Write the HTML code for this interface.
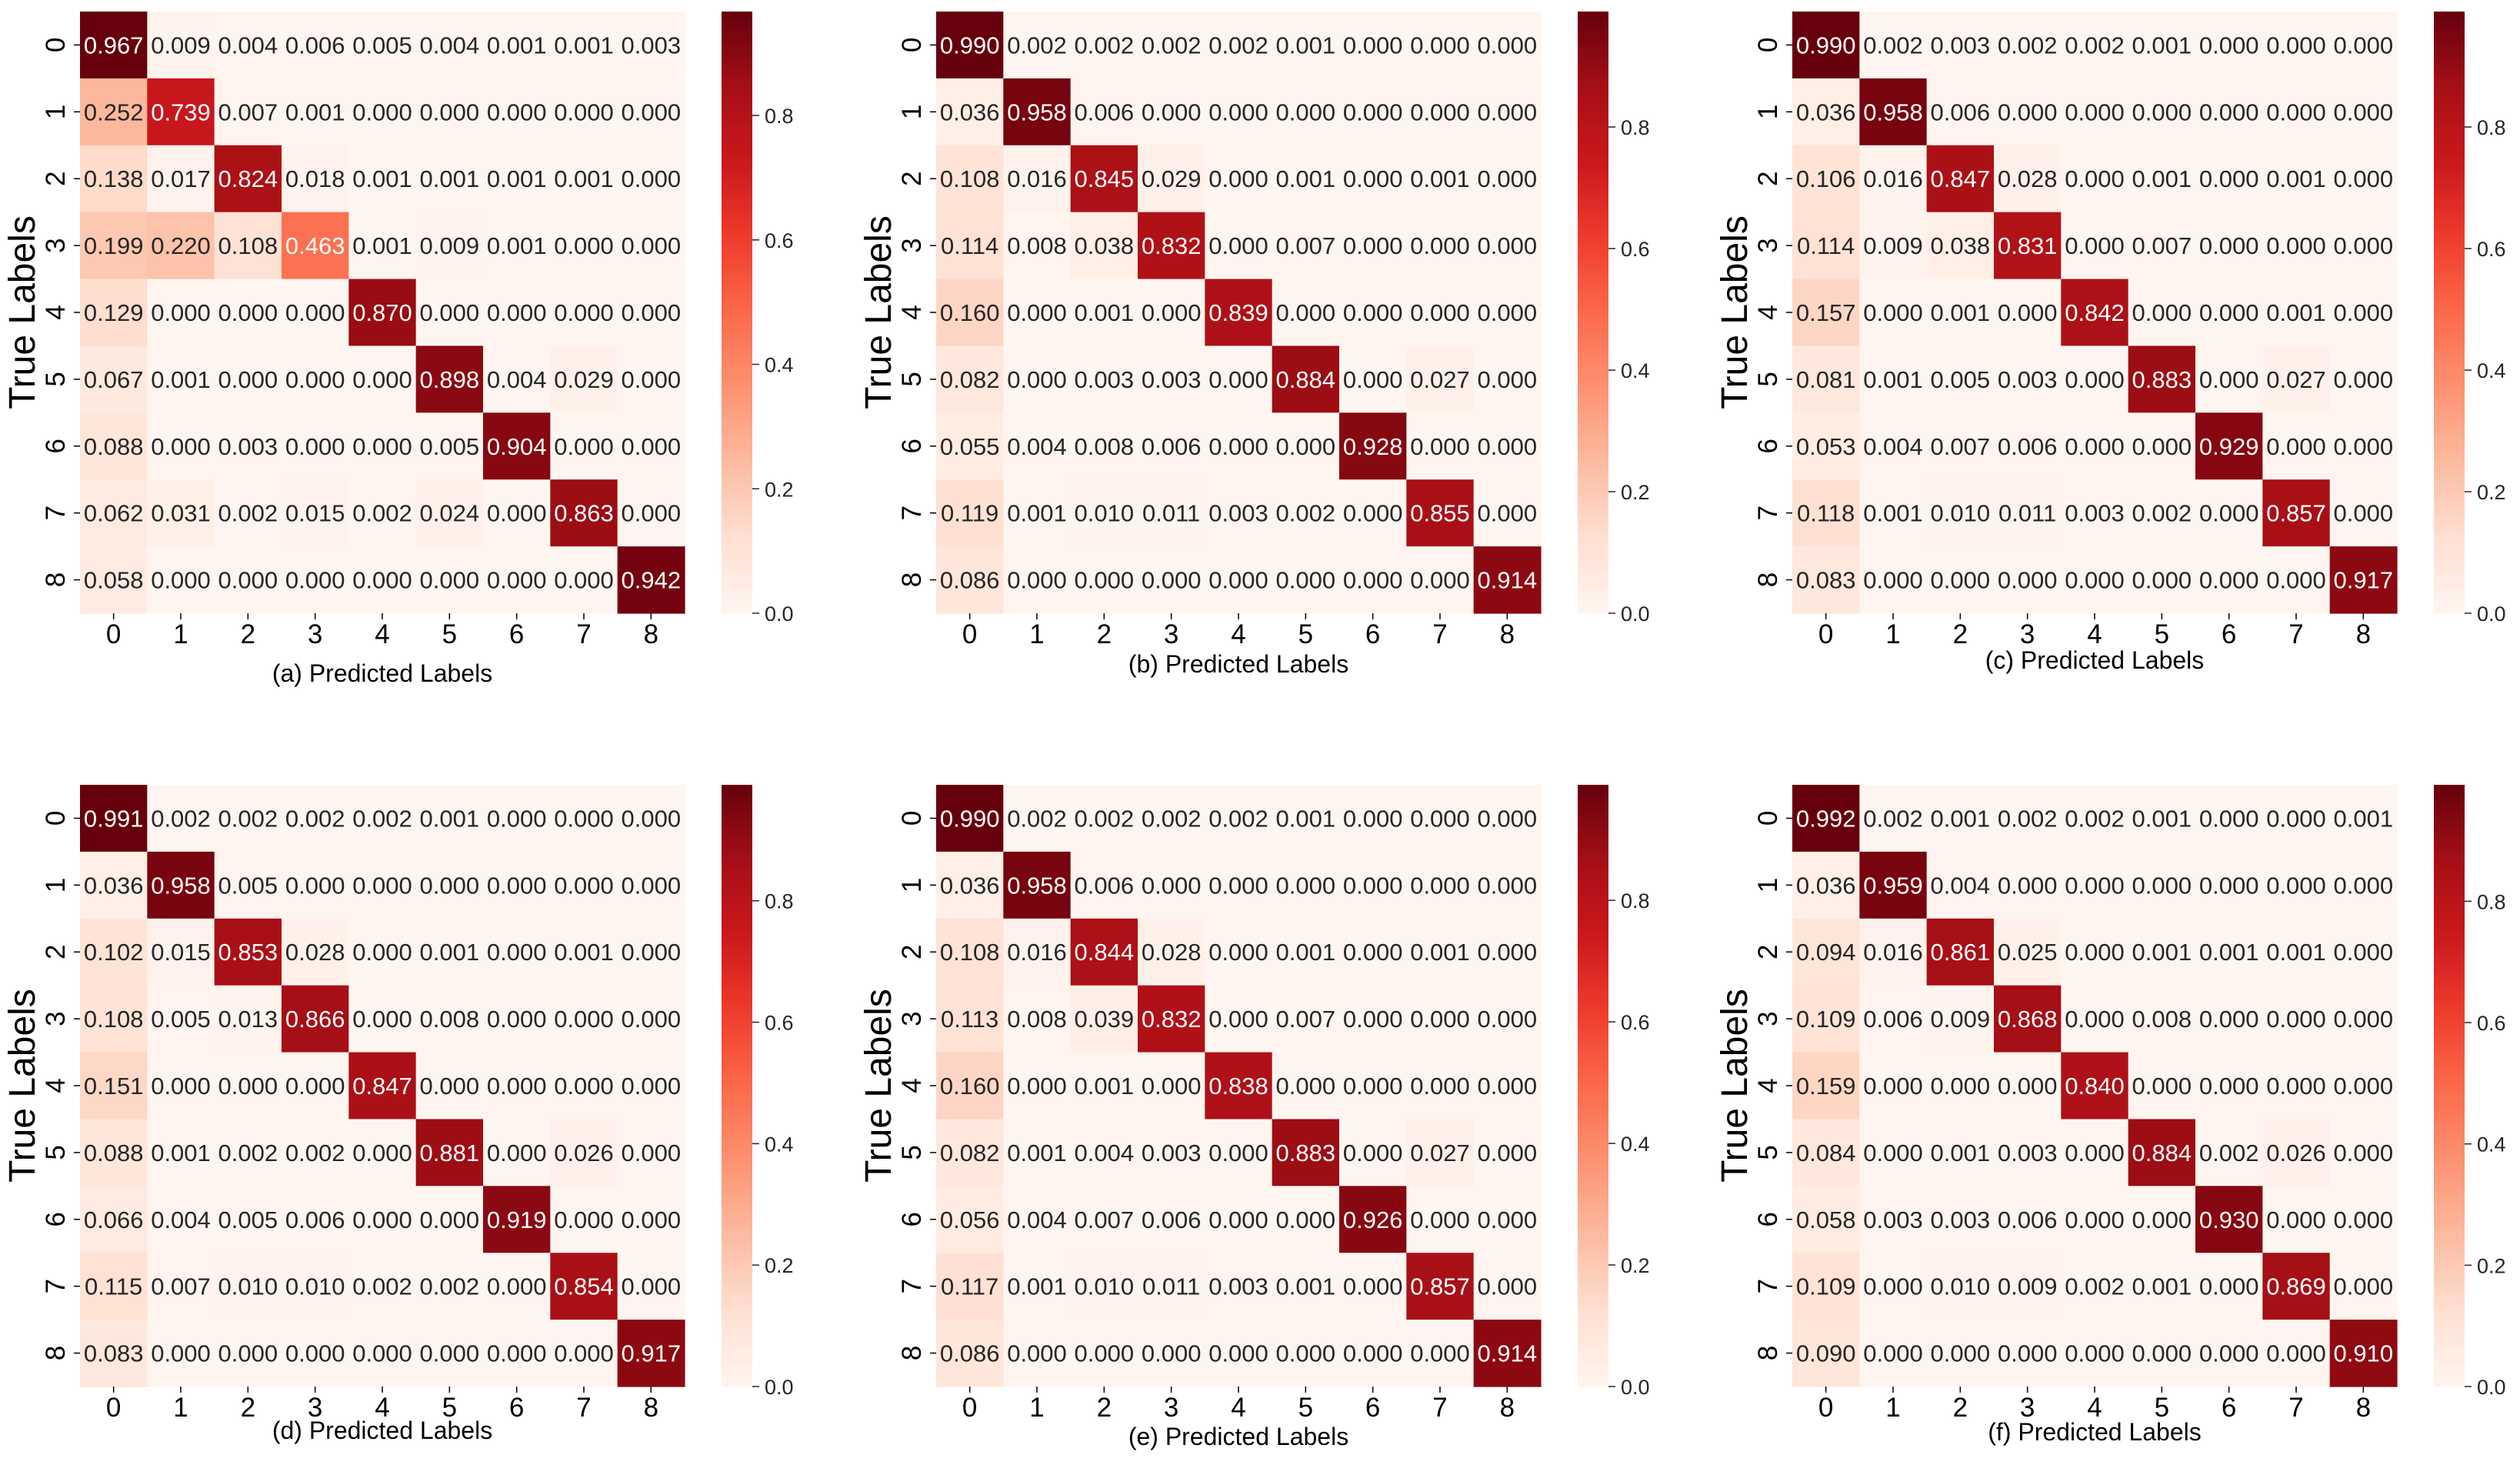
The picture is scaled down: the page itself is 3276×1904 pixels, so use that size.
<!DOCTYPE html>
<html><head><meta charset="utf-8">
<style>
html,body{margin:0;padding:0;background:#fff;}
svg{display:block;font-family:"Liberation Sans",Arial,sans-serif;}
</style></head>
<body>
<svg id="chart" width="3276" height="1904" viewBox="0 0 3276 1904" xmlns="http://www.w3.org/2000/svg"></svg>
<script>
const classLabels = ["0","1","2","3","4","5","6","7","8"];
const colorbarTicks = [0.0, 0.2, 0.4, 0.6, 0.8];
const panelTitles = ["(a) Predicted Labels","(b) Predicted Labels","(c) Predicted Labels","(d) Predicted Labels","(e) Predicted Labels","(f) Predicted Labels"];
const matrixA = [
[0.967,0.009,0.004,0.006,0.005,0.004,0.001,0.001,0.003],
[0.252,0.739,0.007,0.001,0.000,0.000,0.000,0.000,0.000],
[0.138,0.017,0.824,0.018,0.001,0.001,0.001,0.001,0.000],
[0.199,0.220,0.108,0.463,0.001,0.009,0.001,0.000,0.000],
[0.129,0.000,0.000,0.000,0.870,0.000,0.000,0.000,0.000],
[0.067,0.001,0.000,0.000,0.000,0.898,0.004,0.029,0.000],
[0.088,0.000,0.003,0.000,0.000,0.005,0.904,0.000,0.000],
[0.062,0.031,0.002,0.015,0.002,0.024,0.000,0.863,0.000],
[0.058,0.000,0.000,0.000,0.000,0.000,0.000,0.000,0.942]];
const matrixB = [
[0.990,0.002,0.002,0.002,0.002,0.001,0.000,0.000,0.000],
[0.036,0.958,0.006,0.000,0.000,0.000,0.000,0.000,0.000],
[0.108,0.016,0.845,0.029,0.000,0.001,0.000,0.001,0.000],
[0.114,0.008,0.038,0.832,0.000,0.007,0.000,0.000,0.000],
[0.160,0.000,0.001,0.000,0.839,0.000,0.000,0.000,0.000],
[0.082,0.000,0.003,0.003,0.000,0.884,0.000,0.027,0.000],
[0.055,0.004,0.008,0.006,0.000,0.000,0.928,0.000,0.000],
[0.119,0.001,0.010,0.011,0.003,0.002,0.000,0.855,0.000],
[0.086,0.000,0.000,0.000,0.000,0.000,0.000,0.000,0.914]];
const matrixC = [
[0.990,0.002,0.003,0.002,0.002,0.001,0.000,0.000,0.000],
[0.036,0.958,0.006,0.000,0.000,0.000,0.000,0.000,0.000],
[0.106,0.016,0.847,0.028,0.000,0.001,0.000,0.001,0.000],
[0.114,0.009,0.038,0.831,0.000,0.007,0.000,0.000,0.000],
[0.157,0.000,0.001,0.000,0.842,0.000,0.000,0.001,0.000],
[0.081,0.001,0.005,0.003,0.000,0.883,0.000,0.027,0.000],
[0.053,0.004,0.007,0.006,0.000,0.000,0.929,0.000,0.000],
[0.118,0.001,0.010,0.011,0.003,0.002,0.000,0.857,0.000],
[0.083,0.000,0.000,0.000,0.000,0.000,0.000,0.000,0.917]];
const matrixD = [
[0.991,0.002,0.002,0.002,0.002,0.001,0.000,0.000,0.000],
[0.036,0.958,0.005,0.000,0.000,0.000,0.000,0.000,0.000],
[0.102,0.015,0.853,0.028,0.000,0.001,0.000,0.001,0.000],
[0.108,0.005,0.013,0.866,0.000,0.008,0.000,0.000,0.000],
[0.151,0.000,0.000,0.000,0.847,0.000,0.000,0.000,0.000],
[0.088,0.001,0.002,0.002,0.000,0.881,0.000,0.026,0.000],
[0.066,0.004,0.005,0.006,0.000,0.000,0.919,0.000,0.000],
[0.115,0.007,0.010,0.010,0.002,0.002,0.000,0.854,0.000],
[0.083,0.000,0.000,0.000,0.000,0.000,0.000,0.000,0.917]];
const matrixE = [
[0.990,0.002,0.002,0.002,0.002,0.001,0.000,0.000,0.000],
[0.036,0.958,0.006,0.000,0.000,0.000,0.000,0.000,0.000],
[0.108,0.016,0.844,0.028,0.000,0.001,0.000,0.001,0.000],
[0.113,0.008,0.039,0.832,0.000,0.007,0.000,0.000,0.000],
[0.160,0.000,0.001,0.000,0.838,0.000,0.000,0.000,0.000],
[0.082,0.001,0.004,0.003,0.000,0.883,0.000,0.027,0.000],
[0.056,0.004,0.007,0.006,0.000,0.000,0.926,0.000,0.000],
[0.117,0.001,0.010,0.011,0.003,0.001,0.000,0.857,0.000],
[0.086,0.000,0.000,0.000,0.000,0.000,0.000,0.000,0.914]];
const matrixF = [
[0.992,0.002,0.001,0.002,0.002,0.001,0.000,0.000,0.001],
[0.036,0.959,0.004,0.000,0.000,0.000,0.000,0.000,0.000],
[0.094,0.016,0.861,0.025,0.000,0.001,0.001,0.001,0.000],
[0.109,0.006,0.009,0.868,0.000,0.008,0.000,0.000,0.000],
[0.159,0.000,0.000,0.000,0.840,0.000,0.000,0.000,0.000],
[0.084,0.000,0.001,0.003,0.000,0.884,0.002,0.026,0.000],
[0.058,0.003,0.003,0.006,0.000,0.000,0.930,0.000,0.000],
[0.109,0.000,0.010,0.009,0.002,0.001,0.000,0.869,0.000],
[0.090,0.000,0.000,0.000,0.000,0.000,0.000,0.000,0.910]];
const matrices = [matrixA, matrixB, matrixC, matrixD, matrixE, matrixF];

const NS = "http://www.w3.org/2000/svg";
const svg = document.getElementById("chart");
const REDS = ["#fff5f0","#fee0d2","#fcbba1","#fc9272","#fb6a4a","#ef3b2c","#cb181d","#a50f15","#67000d"];
function hex(h){return [parseInt(h.slice(1,3),16),parseInt(h.slice(3,5),16),parseInt(h.slice(5,7),16)];}
function reds(t){
  t=Math.max(0,Math.min(1,t)); const p=t*8; const i=Math.min(7,Math.floor(p)); const f=p-i;
  const a=hex(REDS[i]), b=hex(REDS[i+1]);
  return a.map((v,k)=>Math.round(v+(b[k]-v)*f));
}
function lum(c){const l=c.map(v=>{v/=255;return v<=0.03928?v/12.92:Math.pow((v+0.055)/1.055,2.4);});return 0.2126*l[0]+0.7152*l[1]+0.0722*l[2];}
function el(tag, attrs, parent){const e=document.createElementNS(NS,tag);for(const k in attrs)e.setAttribute(k,attrs[k]);(parent||svg).appendChild(e);return e;}

const colX = [104, 1217, 2330];
const rowY = [15, 1020];
const HW = 786, HH = 782;
const titleOffsets = [78, 66, 61, 57, 65, 59];

matrices.forEach((m, pi) => {
  const x0 = colX[pi%3], y0 = rowY[Math.floor(pi/3)];
  const n = classLabels.length;
  const cw = HW/n, ch = HH/n;
  let vmax = 0; m.forEach(r=>r.forEach(v=>{if(v>vmax)vmax=v;}));
  const vmin = 0;
  const xs = i => x0 + i*cw;
  const ys = j => y0 + j*ch;
  const g = el("g", {});
  
  
  m.forEach((row, r) => row.forEach((v, c) => {
    const col = reds((v-vmin)/(vmax-vmin));
    const rect = el("rect", {x:xs(c), y:ys(r), width:cw+0.6, height:ch+0.6, fill:`rgb(${col.join(",")})`}, g);
    
    
    const t = el("text", {x:xs(c)+cw/2, y:ys(r)+ch/2+11, "text-anchor":"middle", "font-size":31, fill: lum(col)<0.408 ? "#ffffff" : "#262626"}, g);
    t.textContent = v.toFixed(3);
    
    
  }));
  classLabels.forEach((lab, i) => {
    el("line", {x1:xs(i)+cw/2, x2:xs(i)+cw/2, y1:y0+HH, y2:y0+HH+8, stroke:"#000", "stroke-width":1.5}, g);
    const tx = el("text", {x:xs(i)+cw/2, y:y0+HH+39, "text-anchor":"middle", "font-size":35, fill:"#000"}, g);
    tx.textContent = lab;
    
    
    el("line", {x1:x0-8, x2:x0, y1:ys(i)+ch/2, y2:ys(i)+ch/2, stroke:"#000", "stroke-width":1.5}, g);
    const cy = ys(i)+ch/2, cx = x0-32;
    const ty = el("text", {x:cx, y:cy+12, "text-anchor":"middle", "font-size":35, fill:"#000", transform:`rotate(-90 ${cx} ${cy})`}, g);
    ty.textContent = lab;
    
    
  });
  const xl = el("text", {x:x0+HW/2, y:y0+HH+titleOffsets[pi]+11, "text-anchor":"middle", "font-size":32, fill:"#000"}, g);
  xl.textContent = panelTitles[pi];
  
  
  const ylx = x0-76, yly = y0+HH/2;
  const yl = el("text", {x:ylx, y:yly+17, "text-anchor":"middle", "font-size":48, fill:"#000", transform:`rotate(-90 ${ylx} ${yly})`}, g);
  yl.textContent = "True Labels";
  
  
  // colorbar
  const cbx = x0 + HW + 48, cbw = 40;
  const steps = 120;
  const cb = el("g", {}, g);
  
  
  for (let s=0; s<steps; s++){
    const col = reds((s+0.5)/steps);
    el("rect", {x:cbx, y:y0+HH-(s+1)*HH/steps, width:cbw, height:HH/steps+0.6, fill:`rgb(${col.join(",")})`}, cb);
  }
  const cyScale = v => y0 + HH - (v-vmin)/(vmax-vmin)*HH;
  colorbarTicks.forEach(tv => {
    const yy = cyScale(tv);
    el("line", {x1:cbx+cbw, x2:cbx+cbw+9, y1:yy, y2:yy, stroke:"#262626", "stroke-width":1.5}, cb);
    const tl = el("text", {x:cbx+cbw+16, y:yy+10, "font-size":27, fill:"#262626"}, cb);
    tl.textContent = tv.toFixed(1);
    
    
  });
});
</script>
</body></html>
